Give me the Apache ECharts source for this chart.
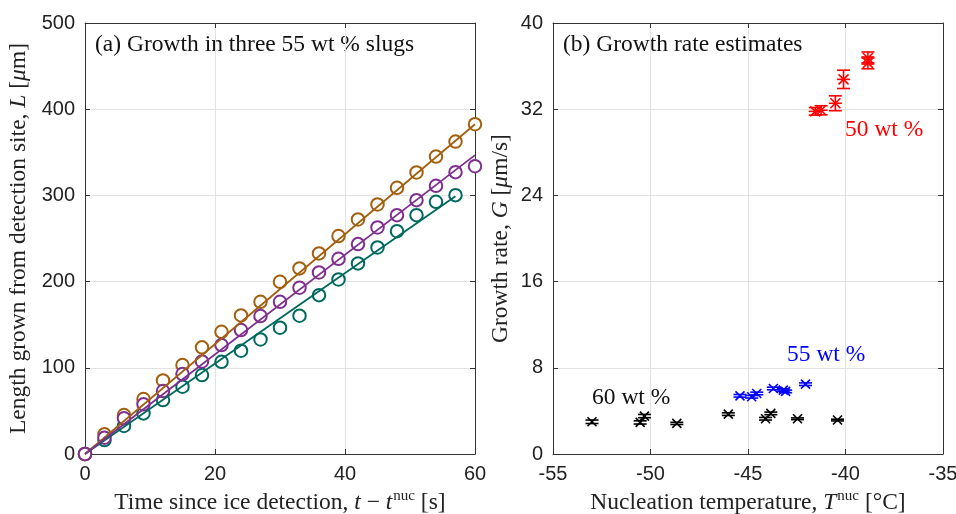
<!DOCTYPE html>
<html>
<head>
<meta charset="utf-8">
<script src="https://cdn.jsdelivr.net/npm/echarts@6/dist/echarts.min.js"></script>
<style>
  html, body { margin: 0; padding: 0; background: #fff; }
  #chart { width: 956px; height: 514px; }
</style>
</head>
<body>
<div id="chart"></div>
<script>
// (a) Crystal length in three 55 wt % slugs, sampled every 3 s
const timeS = [0, 3, 6, 9, 12, 15, 18, 21, 24, 27, 30, 33, 36, 39, 42, 45, 48, 51, 54, 57, 60];
const lengthBrown = [0, 22.8, 45.2, 63.8, 85.4, 103.2, 123.7, 141.8, 160.8, 176.6, 199.8, 215.3, 232.7, 252.8, 272.1, 289.5, 308.8, 326.6, 345.1, 362.5, 382.6];
const lengthPurple = [0, 18.9, 41.4, 57.6, 73.0, 92.8, 107.4, 126.4, 143.8, 160.0, 176.6, 192.9, 210.6, 226.5, 243.5, 262.8, 277.1, 294.5, 311.1, 327.0, 333.9];
const lengthTeal = [0, 16.2, 32.5, 47.1, 62.6, 78.1, 91.6, 107.0, 119.8, 132.9, 146.5, 160.4, 184.3, 202.5, 221.1, 239.6, 258.5, 277.1, 292.6, 300.3];

// Linear fits (start and end points of each fitted line)
const fitTimeBrown = [0, 60];
const fitLengthBrown = [0, 382.6];
const fitTimePurple = [0, 60];
const fitLengthPurple = [0, 346.7];
const fitTimeTeal = [0, 57];
const fitLengthTeal = [0, 299.1];

// (b) Growth rate against nucleation temperature, with one-sided error sizes
const tempBlack = [-53.0, -50.53, -50.31, -48.65, -46.01, -44.1, -43.83, -42.46, -40.41];
const rateBlack = [2.99, 2.93, 3.52, 2.84, 3.70, 3.27, 3.77, 3.27, 3.15];
const errBlack = [0.16, 0.15, 0.15, 0.10, 0.12, 0.12, 0.12, 0.08, 0.08];

const tempBlue = [-45.41, -44.81, -44.55, -43.70, -43.19, -43.07, -42.05];
const rateBlue = [5.40, 5.31, 5.62, 6.08, 5.93, 5.81, 6.48];
const errBlue = [0.12, 0.12, 0.12, 0.12, 0.12, 0.12, 0.12];

const tempRed = [-41.55, -41.25, -40.52, -40.10, -38.85, -38.85];
const rateRed = [31.80, 31.90, 32.55, 34.77, 36.75, 36.30];
const errRed = [0.35, 0.42, 0.69, 0.85, 0.56, 0.55];

// Axis ranges and tick steps
const xTicksA = { min: 0, max: 60, interval: 20 };
const yTicksA = { min: 0, max: 500, interval: 100 };
const xTicksB = { min: -55, max: -35, interval: 5 };
const yTicksB = { min: 0, max: 40, interval: 8 };

const COLORS = { brown: '#A2600F', purple: '#7E2F8E', teal: '#00695E' };
const SERIF = '"Liberation Serif", "DejaVu Serif", serif';
const SANS = '"Liberation Sans", Arial, sans-serif';
const AXIS_COLOR = '#333333';
const GRID_COLOR = '#e2e2e2';
const TEXT_SIZE = 23.5;

const richBase = {
  n: { fontFamily: SERIF, fontSize: TEXT_SIZE, color: '#222', lineHeight: 28 },
  i: { fontFamily: SERIF, fontSize: TEXT_SIZE, fontStyle: 'italic', color: '#222', lineHeight: 28 },
  s: { fontFamily: SERIF, fontSize: 15, color: '#222', verticalAlign: 'top', lineHeight: 28, padding: [0, 0, 0, 1] }
};

function mainAxis(ticks, extra) {
  return Object.assign({
    type: 'value',
    min: ticks.min, max: ticks.max, interval: ticks.interval,
    axisLine: { show: true, onZero: false, lineStyle: { color: AXIS_COLOR, width: 1 } },
    axisTick: { show: true, inside: true, length: 5, lineStyle: { color: AXIS_COLOR } },
    axisLabel: { color: '#222', fontFamily: SANS, fontSize: 20, margin: 10 },
    splitLine: { show: true, lineStyle: { color: GRID_COLOR, width: 1 } },
    nameLocation: 'middle',
    nameTextStyle: { rich: richBase }
  }, extra);
}

function boxAxis(ticks, extra) {
  return Object.assign({
    type: 'value',
    min: ticks.min, max: ticks.max, interval: ticks.interval,
    axisLine: { show: true, onZero: false, lineStyle: { color: AXIS_COLOR, width: 1 } },
    axisTick: { show: true, inside: true, length: 5, lineStyle: { color: AXIS_COLOR } },
    axisLabel: { show: false },
    splitLine: { show: false }
  }, extra);
}

function pairs(xs, ys) { return xs.map((x, i) => [x, ys[i]]); }
function triples(xs, ys, es) { return xs.map((x, i) => [x, ys[i], es[i]]); }

// Cross marker with a capped vertical error bar; optional short horizontal bar
function errorMarks(color, size, withHBar) {
  return function (params, api) {
    const t = api.value(0), g = api.value(1), e = api.value(2);
    const c = api.coord([t, g]);
    const hi = api.coord([t, g + e]);
    const lo = api.coord([t, g - e]);
    const cap = 6.5, m = size;
    const st = { stroke: color, lineWidth: 1.6 };
    const parts = [
      { type: 'line', shape: { x1: c[0], y1: hi[1], x2: c[0], y2: lo[1] }, style: st },
      { type: 'line', shape: { x1: c[0] - cap, y1: hi[1], x2: c[0] + cap, y2: hi[1] }, style: st },
      { type: 'line', shape: { x1: c[0] - cap, y1: lo[1], x2: c[0] + cap, y2: lo[1] }, style: st },
      { type: 'line', shape: { x1: c[0] - m, y1: c[1] - m, x2: c[0] + m, y2: c[1] + m }, style: st },
      { type: 'line', shape: { x1: c[0] - m, y1: c[1] + m, x2: c[0] + m, y2: c[1] - m }, style: st }
    ];
    if (withHBar) {
      parts.push({ type: 'line', shape: { x1: c[0] - cap, y1: c[1], x2: c[0] + cap, y2: c[1] }, style: st });
    }
    return { type: 'group', children: parts };
  };
}

function circles(name, xs, ys, color) {
  return {
    name, type: 'scatter', xAxisIndex: 0, yAxisIndex: 0,
    data: pairs(xs, ys),
    symbol: 'emptyCircle', symbolSize: 12.5,
    itemStyle: { color: color, borderColor: color, borderWidth: 1.8, opacity: 1 },
    emphasis: { disabled: true }
  };
}
function fitLine(name, xs, ys, color) {
  return {
    name, type: 'line', xAxisIndex: 0, yAxisIndex: 0,
    data: pairs(xs, ys), showSymbol: false, symbol: 'none',
    lineStyle: { color, width: 1.8 }, emphasis: { disabled: true }
  };
}
function errSeries(name, ts, gs, es, color, size, withHBar) {
  return {
    name, type: 'custom', xAxisIndex: 1, yAxisIndex: 1,
    data: triples(ts, gs, es),
    encode: { x: 0, y: 1 },
    renderItem: errorMarks(color, size, withHBar),
    clip: false
  };
}

const chart = echarts.init(document.getElementById('chart'), null, { renderer: 'canvas' });

chart.setOption({
  animation: false,
  backgroundColor: '#ffffff',
  grid: [
    { left: 85, top: 23, width: 390, height: 431, containLabel: false, outerBoundsMode: 'none' },
    { left: 553, top: 23, width: 390, height: 431, containLabel: false, outerBoundsMode: 'none' }
  ],
  xAxis: [
    mainAxis(xTicksA, { gridIndex: 0, position: 'bottom', nameGap: 34,
      name: '{n|Time since ice detection, }{i|t}{n| − }{i|t}{s|nuc}{n| [s]}' }),
    mainAxis(xTicksB, { gridIndex: 1, position: 'bottom', nameGap: 34,
      name: '{n|Nucleation temperature, }{i|T}{s|nuc}{n| [°C]}' }),
    boxAxis(xTicksA, { gridIndex: 0, position: 'top' }),
    boxAxis(xTicksB, { gridIndex: 1, position: 'top' })
  ],
  yAxis: [
    mainAxis(yTicksA, { gridIndex: 0, position: 'left', nameGap: 52,
      name: '{n|Length grown from detection site, }{i|L}{n| [}{i|μ}{n|m]}' }),
    mainAxis(yTicksB, { gridIndex: 1, position: 'left', nameGap: 38,
      name: '{n|Growth rate, }{i|G}{n| [}{i|μ}{n|m/s]}' }),
    boxAxis(yTicksA, { gridIndex: 0, position: 'right' }),
    boxAxis(yTicksB, { gridIndex: 1, position: 'right' })
  ],
  series: [
    fitLine('fitTeal', fitTimeTeal, fitLengthTeal, COLORS.teal),
    fitLine('fitBrown', fitTimeBrown, fitLengthBrown, COLORS.brown),
    fitLine('fitPurple', fitTimePurple, fitLengthPurple, COLORS.purple),
    circles('teal', timeS.slice(0, lengthTeal.length), lengthTeal, COLORS.teal),
    circles('brown', timeS, lengthBrown, COLORS.brown),
    circles('purple', timeS, lengthPurple, COLORS.purple),
    errSeries('60 wt %', tempBlack, rateBlack, errBlack, '#000000', 4.5, false),
    errSeries('55 wt %', tempBlue, rateBlue, errBlue, '#0000FF', 4.5, false),
    errSeries('50 wt %', tempRed, rateRed, errRed, '#FF0000', 5, true)
  ],
  graphic: [
    { type: 'text', x: 95, y: 45, style: { text: '(a) Growth in three 55 wt % slugs', font: TEXT_SIZE + 'px ' + SERIF, fill: '#111', verticalAlign: 'middle' } },
    { type: 'text', x: 563, y: 45, style: { text: '(b) Growth rate estimates', font: TEXT_SIZE + 'px ' + SERIF, fill: '#111', verticalAlign: 'middle' } },
    { type: 'text', x: 845, y: 130, style: { text: '50 wt %', font: TEXT_SIZE + 'px ' + SERIF, fill: '#FF0000', verticalAlign: 'middle' } },
    { type: 'text', x: 787, y: 355, style: { text: '55 wt %', font: TEXT_SIZE + 'px ' + SERIF, fill: '#0000FF', verticalAlign: 'middle' } },
    { type: 'text', x: 592, y: 398, style: { text: '60 wt %', font: TEXT_SIZE + 'px ' + SERIF, fill: '#111', verticalAlign: 'middle' } }
  ]
});
</script>
</body>
</html>
